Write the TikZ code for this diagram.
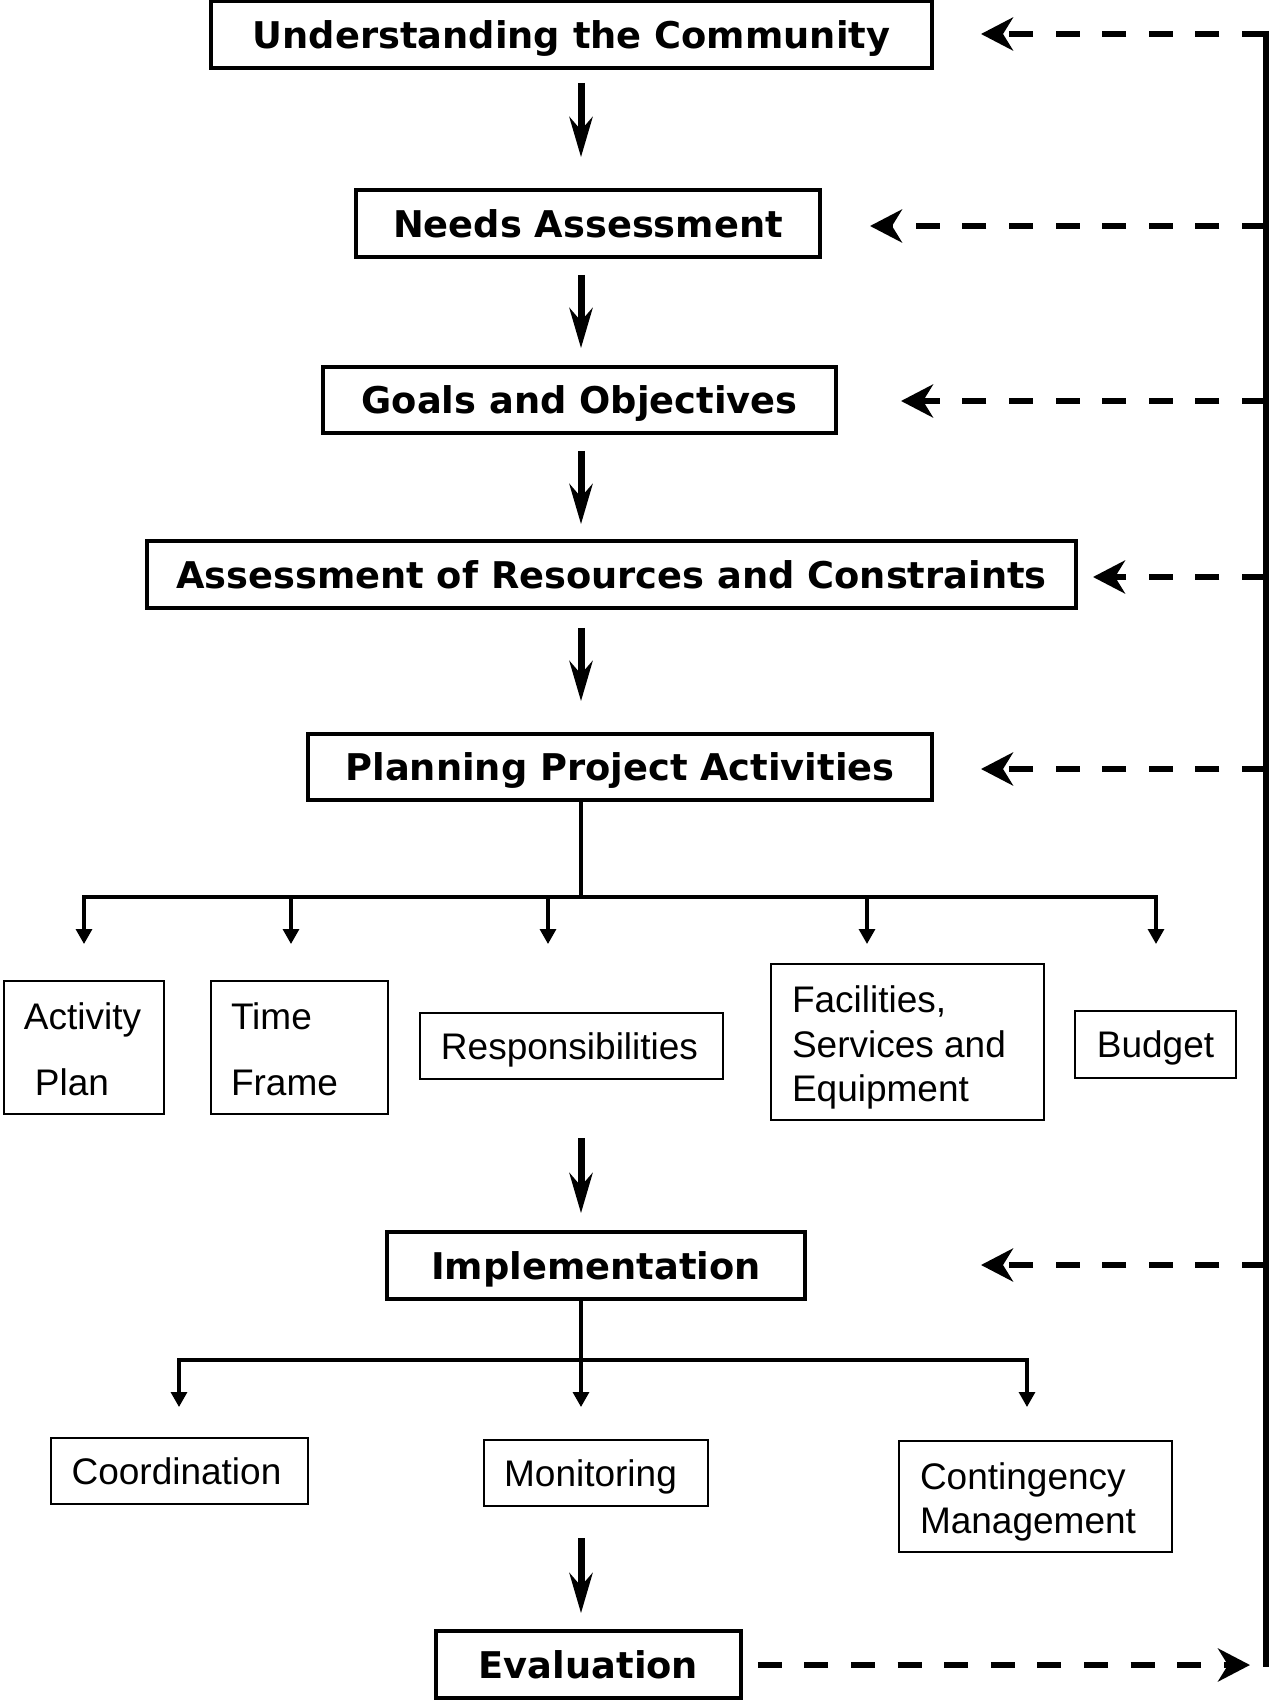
\documentclass[tikz,border=0pt]{standalone}
\usepackage{fontspec}
\setmainfont{Liberation Sans}
\newfontfamily\headfont{DejaVu Sans}
\usetikzlibrary{arrows.meta}
\newcommand\boxlines[3]{\raisebox{#1}[\height][\depth]{\makebox[#2][l]{\begin{tabular}{@{}l@{}}#3\end{tabular}}}}
\begin{document}
\begin{tikzpicture}[x=0.5pt,y=-0.5pt,
  mainbox/.style={draw, line width=1.8pt, inner sep=0pt, text depth=0pt,
    font=\headfont\bfseries\fontsize{18.4}{22}\selectfont},
  multibox/.style={draw, line width=1.4pt, inner sep=0pt,
    font=\fontsize{18.5}{22.2}\selectfont},
  subbox/.style={multibox, text depth=0pt},
  flow/.style={line width=3.5pt, -{Stealth[length=20pt,width=11.5pt,inset=6.5pt]}},
  branch/.style={line width=1.6pt},
  drop/.style={line width=1.6pt, -{Triangle[length=7.5pt,width=8pt]}},
  fb/.style={line width=3.3pt, dash pattern=on 12pt off 11.3pt,
    -{Stealth[length=16pt,width=16.5pt,inset=5pt]}},
  rail/.style={line width=3pt}]
\path[use as bounding box] (0,0) rectangle (1270,1701);

% main steps
\node[mainbox, minimum width=360.5pt, minimum height=33.5pt] (und) at (571.5,34.5) {Understanding the Community};
\node[mainbox, minimum width=232pt, minimum height=33.5pt] (needs) at (588,223.5) {Needs Assessment};
\node[mainbox, minimum width=256.5pt, minimum height=33pt] (goals) at (579.5,400) {Goals and Objectives};
\node[mainbox, minimum width=464.5pt, minimum height=33.5pt] (assess) at (611.5,574.5) {Assessment of Resources and Constraints};
\node[mainbox, minimum width=312pt, minimum height=33pt] (plan) at (620,767) {Planning Project Activities};
\node[mainbox, minimum width=209pt, minimum height=33.5pt] (impl) at (596,1265.5) {Implementation};
\node[mainbox, minimum width=152.5pt, minimum height=33.5pt] (eval) at (588.5,1664.5) {Evaluation};

% planning sub-items
\node[multibox, minimum width=80pt, minimum height=66.5pt] (act) at (84,1047.5) {\boxlines{-3pt}{60pt}{Activity\\[10.8pt]\hspace*{5.5pt}Plan}};
\node[multibox, minimum width=88.5pt, minimum height=66.5pt] (time) at (299.5,1047.5) {\boxlines{-3pt}{68.5pt}{Time\\[10.8pt]Frame}};
\node[subbox, minimum width=151.5pt, minimum height=33pt] (resp) at (571.5,1046) {Responsibilities\hspace*{2pt}};
\node[multibox, minimum width=136.5pt, minimum height=78pt] (fac) at (907.5,1042) {\boxlines{-3.2pt}{115.5pt}{Facilities,\\Services and\\Equipment}};
\node[subbox, minimum width=80.5pt, minimum height=33.5pt] (budget) at (1155.5,1044.5) {Budget};

% implementation sub-items
\node[subbox, minimum width=128.5pt, minimum height=33pt] (coord) at (179.5,1471) {Coordination\hspace*{3pt}};
\node[subbox, minimum width=112pt, minimum height=33pt] (mon) at (596,1473) {Monitoring\hspace*{5.5pt}};
\node[multibox, minimum width=136.5pt, minimum height=55.5pt] (cont) at (1035.5,1496.5) {\boxlines{-3.2pt}{115.5pt}{Contingency\\Management}};

% main flow
\coordinate (spine) at (581,0);
\draw[flow, shorten <=6.5pt, shorten >=15.5pt] (und.south -| spine) -- (needs.north -| spine);
\draw[flow, shorten <=8pt, shorten >=8.5pt] (needs.south -| spine) -- (goals.north -| spine);
\draw[flow, shorten <=8pt, shorten >=7.5pt] (goals.south -| spine) -- (assess.north -| spine);
\draw[flow, shorten <=9pt, shorten >=15.5pt] (assess.south -| spine) -- (plan.north -| spine);
\draw[flow, shorten <=29pt, shorten >=8.5pt] (resp.south -| spine) -- (impl.north -| spine);
\draw[flow, shorten <=15.5pt, shorten >=8pt] (mon.south -| spine) -- (eval.north -| spine);

% planning tree
\coordinate (pj) at (581,897);
\coordinate (d1) at (84,944);
\coordinate (d2) at (291,944);
\coordinate (d3) at (548,944);
\coordinate (d4) at (867,944);
\coordinate (d5) at (1156,944);
\draw[branch] (plan.south -| pj) -- (pj);
\draw[drop] (pj) -| (d1);
\draw[drop] (pj) -| (d5);
\draw[drop] (d2 |- pj) -- (d2);
\draw[drop] (d3 |- pj) -- (d3);
\draw[drop] (d4 |- pj) -- (d4);

% implementation tree
\coordinate (ij) at (581,1360);
\coordinate (e1) at (179,1407);
\coordinate (e2) at (581,1407);
\coordinate (e3) at (1027,1407);
\draw[branch] (impl.south -| ij) -- (ij);
\draw[drop] (ij) -| (e1);
\draw[drop] (ij) -| (e3);
\draw[drop] (ij) -- (e2);

% feedback rail
\coordinate (rtop) at (1266,31);
\coordinate (rbot) at (1266,1667);
\draw[rail] (rtop) -- (rbot);
\coordinate (t1) at (981,34);
\coordinate (t2) at (870,226);
\coordinate (t3) at (901,401);
\coordinate (t4) at (1093,577);
\coordinate (t5) at (981,769);
\coordinate (t6) at (981,1265);
\coordinate (te) at (1250,1665);
\draw[fb] (rtop |- t1) -- (t1);
\draw[fb] (rtop |- t2) -- (t2);
\draw[fb] (rtop |- t3) -- (t3);
\draw[fb] (rtop |- t4) -- (t4);
\draw[fb] (rtop |- t5) -- (t5);
\draw[fb] (rtop |- t6) -- (t6);
\draw[fb, shorten <=7.5pt] (eval.east |- te) -- (te);
\end{tikzpicture}
\end{document}
